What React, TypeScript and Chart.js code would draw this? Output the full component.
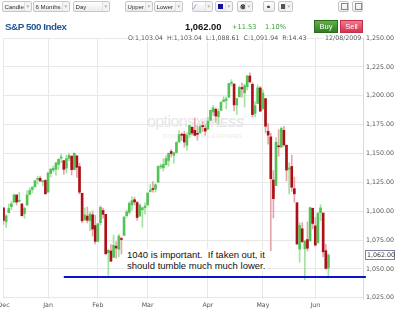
import React, { useEffect, useRef } from "react";
import { Chart, registerables } from "chart.js";

Chart.register(...registerables);

// ---- data (S&P 500 daily, 6 months, first bar 12/08/2009) ----
const months = ["Dec", "Jan", "Feb", "Mar", "Apr", "May", "Jun"];
const monthStart = [0, 17, 36, 55, 78, 99, 119];
const firstDate = "12/08/2009";

const opens = [
  1103.04, 1091.07, 1098.69, 1103.96, 1107.84, 1114.11, 1108.61, 1106.36, 1097.86, 1105.31, 1114.51, 1118.84, 1121.08, 1127.53, 1128.55, 1125.53, 1126.6,
  1116.56, 1132.66, 1135.71, 1136.27, 1140.52, 1145.96, 1143.81, 1137.31, 1145.68, 1147.72, 1136.03, 1147.95, 1138.68, 1115.49, 1092.4, 1095.8, 1091.94, 1096.93, 1087.61,
  1073.89, 1090.05, 1100.67, 1097.25, 1064.12, 1065.51, 1060.06, 1069.68, 1067.1, 1075.95, 1079.13, 1096.14, 1099.03, 1105.49, 1110.0, 1107.49, 1095.89, 1101.24, 1103.1,
  1105.36, 1117.01, 1119.36, 1119.12, 1125.12, 1138.4, 1137.56, 1140.22, 1143.96, 1151.71, 1148.53, 1150.83, 1159.94, 1166.13, 1166.68, 1157.25, 1166.47, 1172.7, 1170.03, 1167.58, 1167.71, 1173.75, 1171.75,
  1171.23, 1178.71, 1186.01, 1188.23, 1181.75, 1187.47, 1194.94, 1195.94, 1198.69, 1210.77, 1210.17, 1192.06, 1199.04, 1207.16, 1202.52, 1207.87, 1217.07, 1209.92, 1184.59, 1193.3, 1206.77,
  1188.58, 1197.5, 1169.24, 1164.38, 1127.04, 1122.27, 1156.39, 1155.43, 1170.04, 1157.19, 1136.52, 1138.78, 1119.57, 1107.34, 1067.26, 1084.78, 1067.42, 1075.51, 1074.27, 1102.59,
  1087.3, 1073.01, 1098.82, 1098.43, 1065.84, 1050.81,
];
const highs = [
  1103.04, 1097.04, 1106.25, 1108.5, 1114.76, 1114.11, 1116.21, 1106.36, 1103.74, 1117.68, 1120.27, 1121.58, 1126.48, 1130.38, 1130.38, 1126.42, 1127.64,
  1133.87, 1136.63, 1139.19, 1142.46, 1145.39, 1149.74, 1143.81, 1148.4, 1150.41, 1147.77, 1150.45, 1147.95, 1141.58, 1115.49, 1102.97, 1103.69, 1099.51, 1100.22, 1096.45,
  1089.38, 1104.73, 1102.72, 1097.25, 1067.13, 1071.2, 1079.28, 1073.67, 1080.04, 1077.81, 1095.67, 1101.03, 1108.24, 1112.42, 1112.29, 1108.58, 1106.42, 1103.5, 1107.24,
  1116.11, 1123.46, 1125.64, 1123.73, 1139.38, 1141.05, 1145.37, 1148.26, 1150.24, 1153.41, 1150.98, 1160.28, 1169.84, 1167.77, 1169.2, 1167.82, 1174.72, 1173.04, 1180.69, 1173.93, 1174.85, 1177.83, 1174.56,
  1181.43, 1187.73, 1191.8, 1189.6, 1188.55, 1194.66, 1199.2, 1199.04, 1210.65, 1213.92, 1210.17, 1197.87, 1208.58, 1210.99, 1210.27, 1217.28, 1219.8, 1211.38, 1195.05, 1209.36, 1207.99,
  1205.13, 1197.5, 1175.95, 1167.58, 1135.13, 1163.85, 1170.48, 1172.87, 1173.57, 1157.19, 1141.88, 1148.66, 1129.63, 1107.34, 1090.16, 1089.95, 1074.75, 1090.75, 1103.52, 1102.59,
  1094.77, 1098.56, 1105.67, 1098.43, 1071.36, 1063.15,
];
const lows = [
  1088.61, 1085.89, 1098.69, 1101.34, 1107.84, 1105.35, 1107.96, 1095.88, 1093.88, 1105.31, 1114.51, 1116.0, 1121.08, 1123.51, 1126.08, 1121.94, 1114.81,
  1116.56, 1129.66, 1133.95, 1131.32, 1136.22, 1142.02, 1131.77, 1133.18, 1143.8, 1131.39, 1135.77, 1129.25, 1114.84, 1090.18, 1092.4, 1089.86, 1083.11, 1078.46, 1071.59,
  1073.89, 1087.96, 1093.97, 1062.78, 1044.5, 1056.51, 1060.06, 1059.34, 1060.59, 1062.97, 1079.13, 1094.72, 1097.48, 1100.8, 1105.38, 1092.18, 1095.5, 1086.02, 1097.56,
  1105.36, 1116.51, 1116.58, 1116.66, 1125.12, 1136.77, 1134.9, 1140.09, 1138.99, 1146.97, 1141.45, 1150.35, 1159.94, 1161.16, 1155.33, 1152.88, 1163.83, 1166.01, 1165.09, 1161.48, 1167.71, 1168.92, 1165.77,
  1170.69, 1178.71, 1182.77, 1177.25, 1175.12, 1187.15, 1194.71, 1188.82, 1198.69, 1208.5, 1186.77, 1183.68, 1199.04, 1198.85, 1190.19, 1205.1, 1211.07, 1181.62, 1181.81, 1193.3, 1186.32,
  1188.58, 1168.12, 1158.15, 1065.79, 1094.15, 1122.27, 1147.71, 1155.43, 1156.14, 1126.14, 1114.96, 1117.2, 1107.84, 1071.58, 1055.9, 1072.7, 1040.78, 1065.59, 1074.27, 1084.78,
  1069.89, 1072.03, 1091.81, 1060.5, 1049.86, 1042.17,
];
const closes = [
  1091.94, 1095.95, 1102.35, 1106.41, 1114.11, 1107.93, 1109.18, 1096.08, 1102.47, 1114.05, 1118.02, 1120.59, 1126.48, 1127.78, 1126.2, 1126.42, 1115.1,
  1132.99, 1136.52, 1137.14, 1141.69, 1144.98, 1146.98, 1136.22, 1145.68, 1148.46, 1136.03, 1150.23, 1138.04, 1116.48, 1091.76, 1096.78, 1092.17, 1097.5, 1084.53, 1073.87,
  1089.19, 1103.32, 1097.28, 1063.11, 1066.19, 1056.74, 1070.52, 1068.13, 1078.47, 1075.51, 1094.87, 1099.51, 1106.75, 1109.17, 1108.01, 1094.6, 1105.24, 1102.94, 1104.49,
  1115.71, 1118.31, 1118.79, 1122.97, 1138.7, 1138.5, 1140.45, 1145.61, 1150.24, 1149.99, 1150.51, 1159.46, 1166.21, 1165.83, 1159.9, 1165.81, 1174.17, 1167.72, 1165.73, 1166.59, 1173.22, 1173.27, 1169.43,
  1178.1, 1187.44, 1189.44, 1182.45, 1186.44, 1194.37, 1196.48, 1197.3, 1210.65, 1211.67, 1192.13, 1197.52, 1207.17, 1205.94, 1208.67, 1217.28, 1212.05, 1183.71, 1191.36, 1206.78, 1186.69,
  1202.26, 1173.6, 1165.9, 1128.15, 1110.88, 1159.73, 1155.79, 1171.67, 1157.44, 1135.68, 1136.94, 1120.8, 1115.05, 1071.59, 1087.69, 1073.65, 1074.03, 1067.95, 1103.06, 1089.41,
  1070.71, 1098.38, 1102.83, 1064.88, 1050.47, 1062.0,
];
const yTicks = [1025, 1050, 1075, 1100, 1125, 1150, 1175, 1200, 1225, 1250];
const supportLevel = 1043;
const supportFrom = 23;
const supportTo = 138.3;
const lastChange = 11.53;
const lastChangePct = 1.1;

const X_MIN = -0.2;
const X_MAX = 137.2;
const Y_MIN = 1024;
const Y_MAX = 1250;

const SMALL = '"DejaVu Sans", Verdana, sans-serif';
const ARIAL = '"Liberation Sans", Arial, sans-serif';
const fmt = (v: number) =>
  v.toLocaleString("en-US", { minimumFractionDigits: 2, maximumFractionDigits: 2 });

const lastPricePlugin = {
  id: "lastPrice",
  afterDraw(chart: any) {
    const { ctx } = chart;
    const y = chart.scales.y;
    const v = closes[closes.length - 1];
    const py = Math.round(y.getPixelForValue(v));
    const x = y.left + 2;
    ctx.save();
    ctx.fillStyle = "#ffffff";
    ctx.fillRect(x, py - 5, 30, 10);
    ctx.strokeStyle = "#7b80a8";
    ctx.lineWidth = 1;
    ctx.strokeRect(x + 0.5, py - 4.5, 29, 9);
    ctx.fillStyle = "#333";
    ctx.font = `6.3px ${SMALL}`;
    ctx.textBaseline = "middle";
    ctx.fillText(fmt(v), x + 2, py + 0.5);
    ctx.restore();
  },
};

function ToolBox({ left, width, children, arrow = true }: any) {
  return (
    <div
      style={{
        position: "absolute",
        left,
        top: 1,
        width,
        height: 11,
        border: "1px solid #c6c6c6",
        borderRadius: 2,
        background: "linear-gradient(#ffffff,#ebebeb)",
        boxSizing: "border-box",
        font: `6.1px ${ARIAL}`,
        color: "#333",
        lineHeight: "9px",
        paddingLeft: 1.5,
        whiteSpace: "nowrap",
        overflow: "hidden",
      }}
    >
      {children}
      {arrow && (
        <span
          style={{
            position: "absolute",
            right: 0,
            top: 0,
            fontSize: 4.5,
            color: "#b0b0b0",
            borderLeft: "1px solid #e0e0e0",
            paddingLeft: 1,
            paddingRight: 1,
            lineHeight: "9px",
            background: "#f4f4f4",
          }}
        >
          ▼
        </span>
      )}
    </div>
  );
}

export default function App() {
  const ref = useRef<HTMLCanvasElement>(null);

  useEffect(() => {
    const idx = closes.map((_, i) => i);
    const up = idx.map((i) => closes[i] >= opens[i]);
    const bodyData = idx.map((i) => ({
      x: i,
      y: [Math.min(opens[i], closes[i]), Math.max(opens[i], closes[i])],
    }));
    const wickData = idx.map((i) => ({ x: i, y: [lows[i], highs[i]] }));

    const chart = new Chart(ref.current as HTMLCanvasElement, {
      type: "bar",
      data: {
        datasets: [
          {
            type: "line",
            data: [
              { x: supportFrom, y: supportLevel },
              { x: supportTo, y: supportLevel },
            ],
            borderColor: "#0a14c8",
            borderWidth: 2,
            pointRadius: 0,
            clip: false as any,
            order: 0,
          } as any,
          {
            data: bodyData as any,
            backgroundColor: up.map((u) => (u ? "#55c255" : "#ad0f17")),
            barThickness: 2,
            grouped: false,
            minBarLength: 1,
            order: 1,
          },
          {
            data: wickData as any,
            backgroundColor: up.map((u) => (u ? "#a5e0a5" : "#e2a6ac")),
            barThickness: 1,
            grouped: false,
            order: 2,
          },
        ],
      },
      options: {
        animation: false,
        responsive: false,
        layout: { padding: { left: 3, top: 38, right: 0, bottom: 0 } },
        plugins: { legend: { display: false }, tooltip: { enabled: false } },
        scales: {
          x: {
            type: "linear",
            min: X_MIN,
            max: X_MAX,
            offset: false,
            grid: { color: "#e8e8e8", drawTicks: false, offset: false },
            border: { display: false },
            afterBuildTicks: (s: any) => {
              s.ticks = monthStart.map((v) => ({ value: v }));
            },
            afterFit: (s: any) => {
              s.height = 17;
              s.paddingLeft = 0;
              s.paddingRight = 0;
            },
            ticks: {
              autoSkip: false,
              maxRotation: 0,
              padding: 3,
              color: "#555",
              font: { family: SMALL, size: 6.3 },
              callback: (v: any) => months[monthStart.indexOf(Number(v))] ?? "",
            },
          },
          y: {
            position: "right",
            min: Y_MIN,
            max: Y_MAX,
            afterBuildTicks: (s: any) => {
              s.ticks = yTicks.map((v) => ({ value: v }));
            },
            afterFit: (s: any) => {
              s.width = 37;
              s.paddingTop = 0;
              s.paddingBottom = 0;
            },
            grid: { color: "#e8e8e8", drawTicks: false },
            border: { display: true, color: "#dadada" },
            ticks: {
              padding: 3,
              color: "#555",
              font: { family: SMALL, size: 6.3 },
              callback: (v: any) => fmt(Number(v)),
            },
          },
        },
      } as any,
      plugins: [lastPricePlugin],
    });
    return () => chart.destroy();
  }, []);

  const ohlc = `O:${fmt(opens[0])}  H:${fmt(highs[0])}  L:${fmt(lows[0])}  C:${fmt(closes[0])}  R:${fmt(
    highs[0] - lows[0]
  )}`;
  const last = closes[closes.length - 1];

  return (
    <div
      style={{
        position: "fixed",
        left: 0,
        top: 0,
        width: 400,
        height: 316,
        background: "#fff",
        overflow: "hidden",
        fontFamily: ARIAL,
      }}
    >
      {/* watermark behind chart */}
      <div style={{ position: "absolute", left: 147, top: 113, color: "#e7e7e7", whiteSpace: "nowrap" }}>
        <span style={{ fontSize: 16, letterSpacing: -0.6 }}>options</span>
        <span style={{ fontSize: 13, fontWeight: "bold", fontStyle: "italic", letterSpacing: -0.6 }}>XPRESS</span>
        <span style={{ fontSize: 6, verticalAlign: "top" }}>©</span>
      </div>
      <div
        style={{
          position: "absolute",
          left: 163,
          top: 133,
          color: "#e8e8e8",
          fontSize: 5,
          whiteSpace: "nowrap",
          letterSpacing: 0.2,
        }}
      >
        STOCKS OPTIONS &amp; FUTURES
      </div>

      <canvas ref={ref} width={400} height={316} style={{ position: "absolute", left: 0, top: 0 }} />

      {/* toolbar */}
      <ToolBox left={2} width={30}>Candle</ToolBox>
      <ToolBox left={33} width={37}>6 Months</ToolBox>
      <ToolBox left={73} width={37}>Day</ToolBox>
      <ToolBox left={125} width={28}>Upper</ToolBox>
      <ToolBox left={154} width={29}>Lower</ToolBox>
      <ToolBox left={192} width={21}>
        <span style={{ color: "#3355cc", fontSize: 7 }}>⁄</span>
      </ToolBox>
      <ToolBox left={215} width={18}>
        <span style={{ display: "inline-block", width: 5, height: 5, background: "#10109a", marginTop: 2 }} />
      </ToolBox>
      <ToolBox left={237} width={16}>
        <span style={{ fontSize: 7, fontWeight: "bold", color: "#222" }}>⊗</span>
      </ToolBox>
      <ToolBox left={263} width={12} arrow={false}>
        <span style={{ fontSize: 6, color: "#444", fontWeight: "bold" }}>⚭</span>
      </ToolBox>
      <ToolBox left={278} width={15}>
        <span style={{ display: "inline-block", width: 5, height: 5, background: "#555", marginTop: 2 }} />
      </ToolBox>
      <ToolBox left={338} width={11} arrow={false}>
        <span style={{ display: "inline-block", width: 5, height: 5, border: "1px solid #888", marginTop: 1 }} />
      </ToolBox>
      <ToolBox left={352} width={11} arrow={false}>
        <span style={{ display: "inline-block", width: 5, height: 5, border: "1px solid #888", marginTop: 1 }} />
      </ToolBox>

      {/* title row */}
      <div
        style={{
          position: "absolute",
          left: 5,
          top: 21,
          fontSize: 9.8,
          fontWeight: "bold",
          letterSpacing: -0.45,
          color: "#1f5796",
          whiteSpace: "nowrap",
        }}
      >
        S&amp;P 500 Index
      </div>
      <div style={{ position: "absolute", left: 185, top: 21, fontSize: 9.4, fontWeight: "bold", color: "#111" }}>
        {fmt(last)}
      </div>
      <div style={{ position: "absolute", left: 232, top: 23, font: `6.6px ${SMALL}`, color: "#3c9c3c" }}>
        +{fmt(lastChange)}
      </div>
      <div style={{ position: "absolute", left: 265, top: 23, font: `6.6px ${SMALL}`, color: "#3c9c3c" }}>
        {fmt(lastChangePct)}%
      </div>
      <div
        style={{
          position: "absolute",
          left: 314,
          top: 20,
          width: 24,
          height: 13,
          boxSizing: "border-box",
          border: "1px solid #2b6c1c",
          background: "linear-gradient(#63b04a,#2f7f1f)",
          color: "#fff",
          fontSize: 7.5,
          lineHeight: "11px",
          textAlign: "center",
        }}
      >
        Buy
      </div>
      <div
        style={{
          position: "absolute",
          left: 340,
          top: 20,
          width: 23,
          height: 13,
          boxSizing: "border-box",
          border: "1px solid #c23048",
          background: "linear-gradient(#f27890,#d93150)",
          color: "#fff",
          fontSize: 7.5,
          lineHeight: "11px",
          textAlign: "center",
        }}
      >
        Sell
      </div>

      {/* OHLC row */}
      <div
        style={{
          position: "absolute",
          left: 128,
          top: 34,
          font: `6.3px ${SMALL}`,
          color: "#555",
          whiteSpace: "pre",
          background: "#fff",
        }}
      >
        {ohlc}
      </div>
      <div style={{ position: "absolute", left: 325, top: 34, font: `6.3px ${SMALL}`, color: "#555", background: "#fff" }}>
        {firstDate}
      </div>

      {/* annotation */}
      <div
        style={{
          position: "absolute",
          left: 125,
          top: 249,
          padding: "0 2px",
          fontSize: 9.5,
          lineHeight: "11px",
          color: "#111",
          background: "#fff",
          whiteSpace: "pre",
        }}
      >
        {"1040 is important.  If taken out, it\nshould tumble much much lower."}
      </div>
    </div>
  );
}
